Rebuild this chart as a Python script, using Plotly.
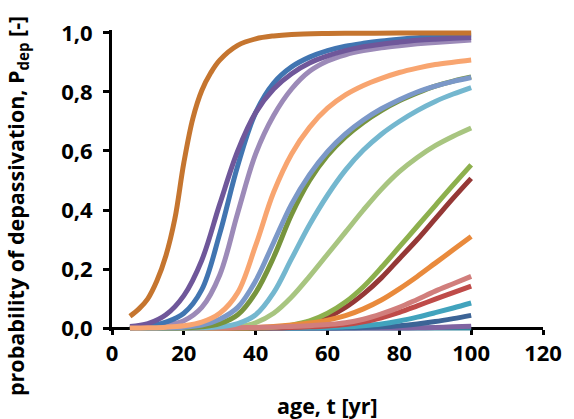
import plotly.graph_objects as go

# ---- data ----
age = [5, 10, 15, 20, 25, 30, 35, 40, 45, 50, 55, 60, 65, 70, 75, 80, 85, 90, 95, 100]
age_fast = [5, 7.5, 10, 12.5, 15, 17.5, 20, 22.5, 25, 27.5, 30, 35, 40, 45, 50, 60, 70, 80, 90, 100]

p_dark_orange = [0.04, 0.065, 0.10, 0.16, 0.245, 0.37, 0.56, 0.71, 0.805, 0.865, 0.908, 0.958, 0.98, 0.99, 0.995, 0.998, 0.999, 1.0, 1.0, 1.0]
p_blue = [0.001, 0.005, 0.02, 0.05, 0.13, 0.32, 0.55, 0.73, 0.83, 0.885, 0.918, 0.94, 0.955, 0.965, 0.973, 0.979, 0.984, 0.988, 0.991, 0.993]
p_purple = [0.005, 0.015, 0.045, 0.11, 0.23, 0.42, 0.60, 0.73, 0.81, 0.862, 0.898, 0.922, 0.94, 0.953, 0.962, 0.969, 0.975, 0.979, 0.982, 0.985]
p_lilac = [0.001, 0.003, 0.01, 0.025, 0.07, 0.18, 0.39, 0.59, 0.72, 0.81, 0.87, 0.905, 0.926, 0.94, 0.95, 0.957, 0.963, 0.968, 0.972, 0.976]
p_salmon = [0.0, 0.001, 0.003, 0.008, 0.02, 0.05, 0.12, 0.28, 0.46, 0.59, 0.68, 0.745, 0.79, 0.822, 0.846, 0.866, 0.881, 0.893, 0.901, 0.908]
p_bluegray = [0.0, 0.0, 0.001, 0.003, 0.01, 0.03, 0.07, 0.16, 0.29, 0.42, 0.52, 0.598, 0.658, 0.705, 0.743, 0.774, 0.80, 0.82, 0.836, 0.849]
p_olive = [0.0, 0.0, 0.0, 0.001, 0.004, 0.015, 0.045, 0.12, 0.24, 0.385, 0.50, 0.585, 0.648, 0.697, 0.737, 0.77, 0.797, 0.82, 0.837, 0.851]
p_lightblue = [0.0, 0.0, 0.0, 0.0, 0.001, 0.004, 0.015, 0.045, 0.12, 0.235, 0.35, 0.45, 0.535, 0.603, 0.657, 0.70, 0.737, 0.768, 0.793, 0.815]
p_lightgreen = [0.0, 0.0, 0.0, 0.0, 0.0, 0.001, 0.004, 0.018, 0.05, 0.105, 0.175, 0.25, 0.325, 0.40, 0.47, 0.53, 0.578, 0.618, 0.65, 0.678]
p_green = [0.0, 0.0, 0.0, 0.0, 0.0, 0.0, 0.0, 0.001, 0.003, 0.01, 0.024, 0.05, 0.088, 0.14, 0.205, 0.275, 0.345, 0.415, 0.485, 0.553]
p_darkred = [0.0, 0.0, 0.0, 0.0, 0.0, 0.0, 0.0, 0.0, 0.002, 0.006, 0.016, 0.037, 0.07, 0.115, 0.17, 0.235, 0.30, 0.37, 0.44, 0.507]
p_orange = [0.0, 0.0, 0.0, 0.0, 0.0, 0.0, 0.001, 0.002, 0.005, 0.01, 0.017, 0.027, 0.042, 0.065, 0.095, 0.133, 0.175, 0.22, 0.265, 0.31]
p_pink = [0.0, 0.0, 0.0, 0.0, 0.0, 0.0, 0.001, 0.002, 0.003, 0.005, 0.008, 0.012, 0.018, 0.03, 0.048, 0.07, 0.097, 0.125, 0.15, 0.175]
p_red = [0.0, 0.0, 0.0, 0.0, 0.0, 0.0, 0.0, 0.0, 0.0, 0.002, 0.004, 0.007, 0.012, 0.021, 0.035, 0.053, 0.075, 0.098, 0.12, 0.142]
p_teal = [0.0, 0.0, 0.0, 0.0, 0.0, 0.0, 0.0, 0.0, 0.0, 0.0, 0.001, 0.002, 0.004, 0.008, 0.014, 0.024, 0.037, 0.052, 0.068, 0.085]
p_navy = [0.0, 0.0, 0.0, 0.0, 0.0, 0.0, 0.0, 0.0, 0.0, 0.0, 0.0, 0.0, 0.001, 0.002, 0.004, 0.008, 0.014, 0.022, 0.032, 0.043]
p_violet = [0.0, 0.0, 0.0, 0.0, 0.0, 0.0, 0.0, 0.0, 0.0, 0.0, 0.0, 0.0, 0.0, 0.0, 0.0, 0.0, 0.001, 0.002, 0.004, 0.006]
p_darkteal = [0.0] * 20

# drawing order (first = bottom): (x values, y values, colour)
series = [
    (age, p_darkteal, "#31859C"),
    (age, p_violet, "#8064A2"),
    (age, p_navy, "#3C6496"),
    (age, p_teal, "#41A3BD"),
    (age, p_red, "#BF4B49"),
    (age, p_darkred, "#953836"),
    (age, p_green, "#8DB04D"),
    (age, p_orange, "#E98A3C"),
    (age, p_lightgreen, "#A8C580"),
    (age, p_pink, "#D17E7C"),
    (age, p_lightblue, "#74B7CF"),
    (age, p_olive, "#77943D"),
    (age, p_bluegray, "#7B98C8"),
    (age, p_lilac, "#9C8AB8"),
    (age, p_blue, "#4175B1"),
    (age, p_purple, "#6F579A"),
    (age, p_salmon, "#F8A570"),
    (age_fast, p_dark_orange, "#C5752F"),
]

fig = go.Figure()
for xs, vals, col in series:
    fig.add_trace(go.Scatter(x=xs, y=vals, mode="lines",
                             line=dict(color=col, width=5, shape="spline", smoothing=1.0),
                             showlegend=False, hoverinfo="skip"))

FONT = "Open Sans"
tickfont = dict(family=FONT, size=22, color="black", weight="bold")
titlefont = dict(family=FONT, size=21.5, color="black", weight="bold")

fig.update_layout(
    width=574, height=419,
    margin=dict(l=112, r=21, t=30, b=88),
    paper_bgcolor="white", plot_bgcolor="white",
    separators=",.",
    showlegend=False,
    xaxis=dict(range=[0, 120], dtick=20, tick0=0, showgrid=False, zeroline=False,
               showline=True, linecolor="black", linewidth=3,
               ticks="outside", ticklen=5, tickwidth=3, tickcolor="black",
               tickfont=tickfont, layer="below traces",
               anchor="free", position=0.01 / 1.02),
    yaxis=dict(range=[-0.01, 1.01], tickvals=[0, 0.2, 0.4, 0.6, 0.8, 1.0], tickformat=".1f",
               showgrid=False, zeroline=False,
               showline=True, linecolor="black", linewidth=3,
               ticks="outside", ticklen=6, tickwidth=3, tickcolor="black",
               tickfont=tickfont, layer="below traces", ticklabelstandoff=6),
    annotations=[
        dict(text="age, t [yr]", xref="paper", yref="paper", x=0.5, y=0,
             yshift=-74, xanchor="center", yanchor="middle", showarrow=False,
             font=titlefont),
        dict(text="probability of depassivation, P<sub>dep</sub> [-]", xref="paper", yref="paper",
             x=0, y=0, xshift=-95, yshift=125, textangle=-90,
             xanchor="center", yanchor="middle", showarrow=False,
             font=titlefont),
    ],
)

fig.write_html("out.html")
